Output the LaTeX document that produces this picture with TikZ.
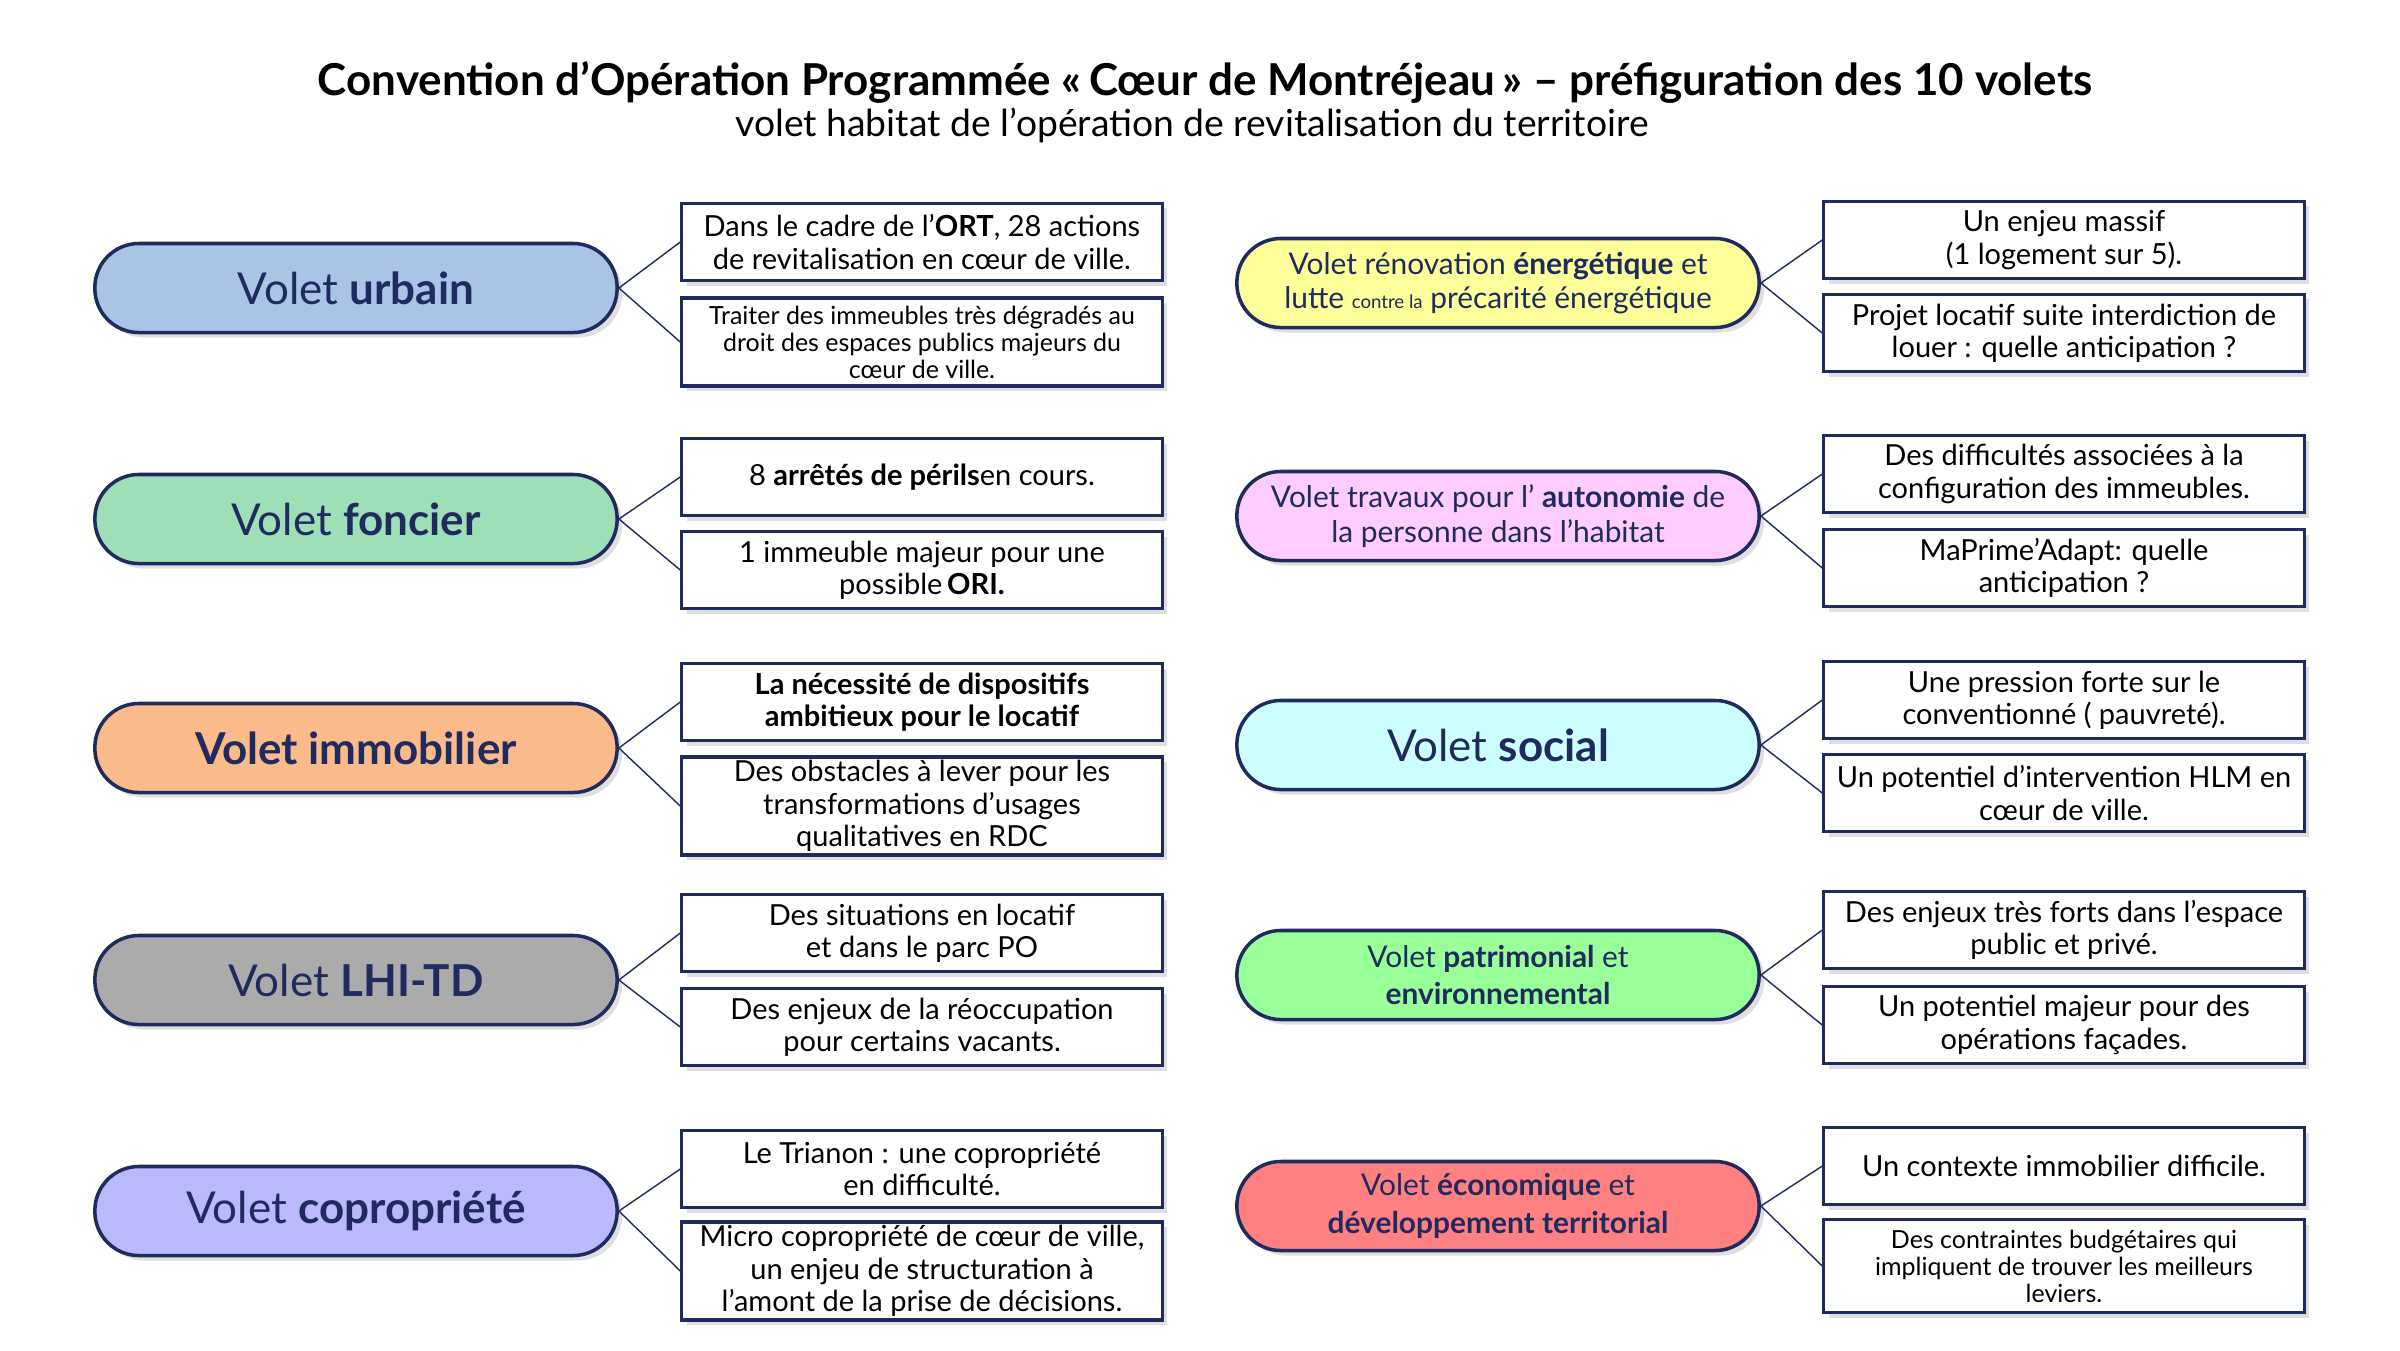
\documentclass[tikz,border=0pt]{standalone}
\usepackage{fontspec}
\setmainfont{Lato}
\usetikzlibrary{shadows}

\definecolor{navy}{HTML}{1F2A5E}
\definecolor{urbainC}{HTML}{A9C4E4}
\definecolor{foncierC}{HTML}{9EDFB8}
\definecolor{immoC}{HTML}{FBBA8A}
\definecolor{lhiC}{HTML}{ABABAB}
\definecolor{coproC}{HTML}{B9B9FC}
\definecolor{energieC}{HTML}{FFFF99}
\definecolor{autoC}{HTML}{FFCCFF}
\definecolor{socialC}{HTML}{CCFFFF}
\definecolor{patriC}{HTML}{99FF99}
\definecolor{ecoC}{HTML}{FF8080}

\tikzset{
  ombre/.style={drop shadow={shadow xshift=0.5mm,shadow yshift=-0.5mm,opacity=0.25}},
  volet/.style={draw=navy,line width=1pt,rounded corners=4.4mm,minimum width=5.22cm,
    minimum height=0.89cm,align=center,text=navy,ombre,font=\fontsize{12.5}{14}\selectfont},
  voletpetit/.style={volet,font=\fontsize{8.5}{9.8}\selectfont},
  enjeu/.style={draw=navy,line width=0.9pt,fill=white,minimum width=4.8cm,minimum height=0.77cm,
    align=center,inner sep=1pt,ombre,font=\fontsize{8.25}{9.2}\selectfont},
  enjeupetit/.style={enjeu,font=\fontsize{7.1}{7.7}\selectfont},
  lien/.style={draw=navy,line width=0.4pt}
}

\begin{document}
\begin{tikzpicture}[x=0.01cm,y=-0.01cm]
 \useasboundingbox (0,0) rectangle (2400,1350); %全体
 \node[font=\fontsize{12.5}{14}\bfseries] (titre) at (1205,82)
   {Convention d’Opération Programmée «\,Cœur de Montréjeau\,» – préfiguration des 10 volets}; %タイトル
 \node[font=\fontsize{10.6}{12}\selectfont] (soustitre) at (1192,125)
   {volet habitat de l’opération de revitalisation du territoire}; %サブタイトル

 % 左の列
 \node[volet,fill=urbainC] (urbain) at (356,288) {Volet \textbf{urbain}};
 \node[volet,fill=foncierC] (foncier) at (356,519) {Volet \textbf{foncier}};
 \node[volet,fill=immoC] (immo) at (356,748) {\textbf{Volet immobilier}};
 \node[volet,fill=lhiC] (lhi) at (356,980) {Volet \textbf{LHI-TD}};
 \node[volet,fill=coproC] (copro) at (356,1211) {Volet \textbf{copropriété}};

 \node[enjeu] (u1) at (922,242) {Dans le cadre de l’\textbf{ORT}, 28 actions\\de revitalisation en cœur de ville.};
 \node[enjeupetit,minimum height=0.88cm] (u2) at (922,342) {Traiter des immeubles très dégradés au\\droit des espaces publics majeurs du\\cœur de ville.};
 \node[enjeu] (f1) at (922,477) {8 \textbf{arrêtés de périls}en cours.};
 \node[enjeu] (f2) at (922,570) {1 immeuble majeur pour une\\possible\,\textbf{ORI.}};
 \node[enjeu,font=\fontsize{8.25}{9.2}\bfseries] (i1) at (922,702) {La nécessité de dispositifs\\ambitieux pour le locatif};
 \node[enjeu,minimum height=0.96cm] (i2) at (922,806) {Des obstacles à lever pour les\\transformations d’usages\\qualitatives en RDC};
 \node[enjeu] (l1) at (922,933) {Des situations en locatif\\et dans le parc PO};
 \node[enjeu] (l2) at (922,1027) {Des enjeux de la réoccupation\\pour certains vacants.};
 \node[enjeu] (c1) at (922,1169) {Le Trianon : une copropriété\\en difficulté.};
 \node[enjeu,minimum height=0.96cm] (c2) at (922,1271) {Micro copropriété de cœur de ville,\\un enjeu de structuration à\\l’amont de la prise de décisions.};

 % 右の列
 \node[voletpetit,fill=energieC] (energie) at (1498,283)
   {Volet rénovation \textbf{énergétique} et\\lutte {\fontsize{5.3}{6}\selectfont contre la} précarité énergétique};
 \node[voletpetit,fill=autoC] (autonomie) at (1498,516)
   {Volet travaux pour l’ \textbf{autonomie} de\\la personne dans l’habitat};
 \node[volet,fill=socialC] (social) at (1498,745) {Volet \textbf{social}};
 \node[voletpetit,fill=patriC,font=\fontsize{8.5}{10.6}\selectfont] (patri) at (1498,975)
   {Volet \textbf{patrimonial} et\\\textbf{environnemental}};
 \node[voletpetit,fill=ecoC,font=\fontsize{8.5}{10.6}\selectfont] (eco) at (1498,1206)
   {Volet \textbf{économique} et\\\textbf{développement territorial}};

 \node[enjeu] (e1) at (2064,240) {Un enjeu massif\\(1 logement sur 5).};
 \node[enjeu] (e2) at (2064,333) {Projet locatif suite interdiction de\\louer : quelle anticipation ?};
 \node[enjeu] (a1) at (2064,474) {Des difficultés associées à la\\configuration des immeubles.};
 \node[enjeu] (a2) at (2064,568) {MaPrime’Adapt: quelle\\anticipation ?};
 \node[enjeu] (s1) at (2064,700) {Une pression forte sur le\\conventionné ( pauvreté).};
 \node[enjeu] (s2) at (2064,793) {Un potentiel d’intervention HLM en\\cœur de ville.};
 \node[enjeu] (p1) at (2064,930) {Des enjeux très forts dans l’espace\\public et privé.};
 \node[enjeu] (p2) at (2064,1025) {Un potentiel majeur pour des\\opérations façades.};
 \node[enjeu] (d1) at (2064,1166) {Un contexte immobilier difficile.};
 \node[enjeupetit,minimum height=0.93cm] (d2) at (2064,1266) {Des contraintes budgétaires qui\\impliquent de trouver les meilleurs\\leviers.};

 % 線
 \draw[lien] (urbain.east) -- (u1.west);
 \draw[lien] (urbain.east) -- (u2.west);
 \draw[lien] (foncier.east) -- (f1.west);
 \draw[lien] (foncier.east) -- (f2.west);
 \draw[lien] (immo.east) -- (i1.west);
 \draw[lien] (immo.east) -- (i2.west);
 \draw[lien] (lhi.east) -- (l1.west);
 \draw[lien] (lhi.east) -- (l2.west);
 \draw[lien] (copro.east) -- (c1.west);
 \draw[lien] (copro.east) -- (c2.west);
 \draw[lien] (energie.east) -- (e1.west);
 \draw[lien] (energie.east) -- (e2.west);
 \draw[lien] (autonomie.east) -- (a1.west);
 \draw[lien] (autonomie.east) -- (a2.west);
 \draw[lien] (social.east) -- (s1.west);
 \draw[lien] (social.east) -- (s2.west);
 \draw[lien] (patri.east) -- (p1.west);
 \draw[lien] (patri.east) -- (p2.west);
 \draw[lien] (eco.east) -- (d1.west);
 \draw[lien] (eco.east) -- (d2.west);
\end{tikzpicture}
\end{document}
